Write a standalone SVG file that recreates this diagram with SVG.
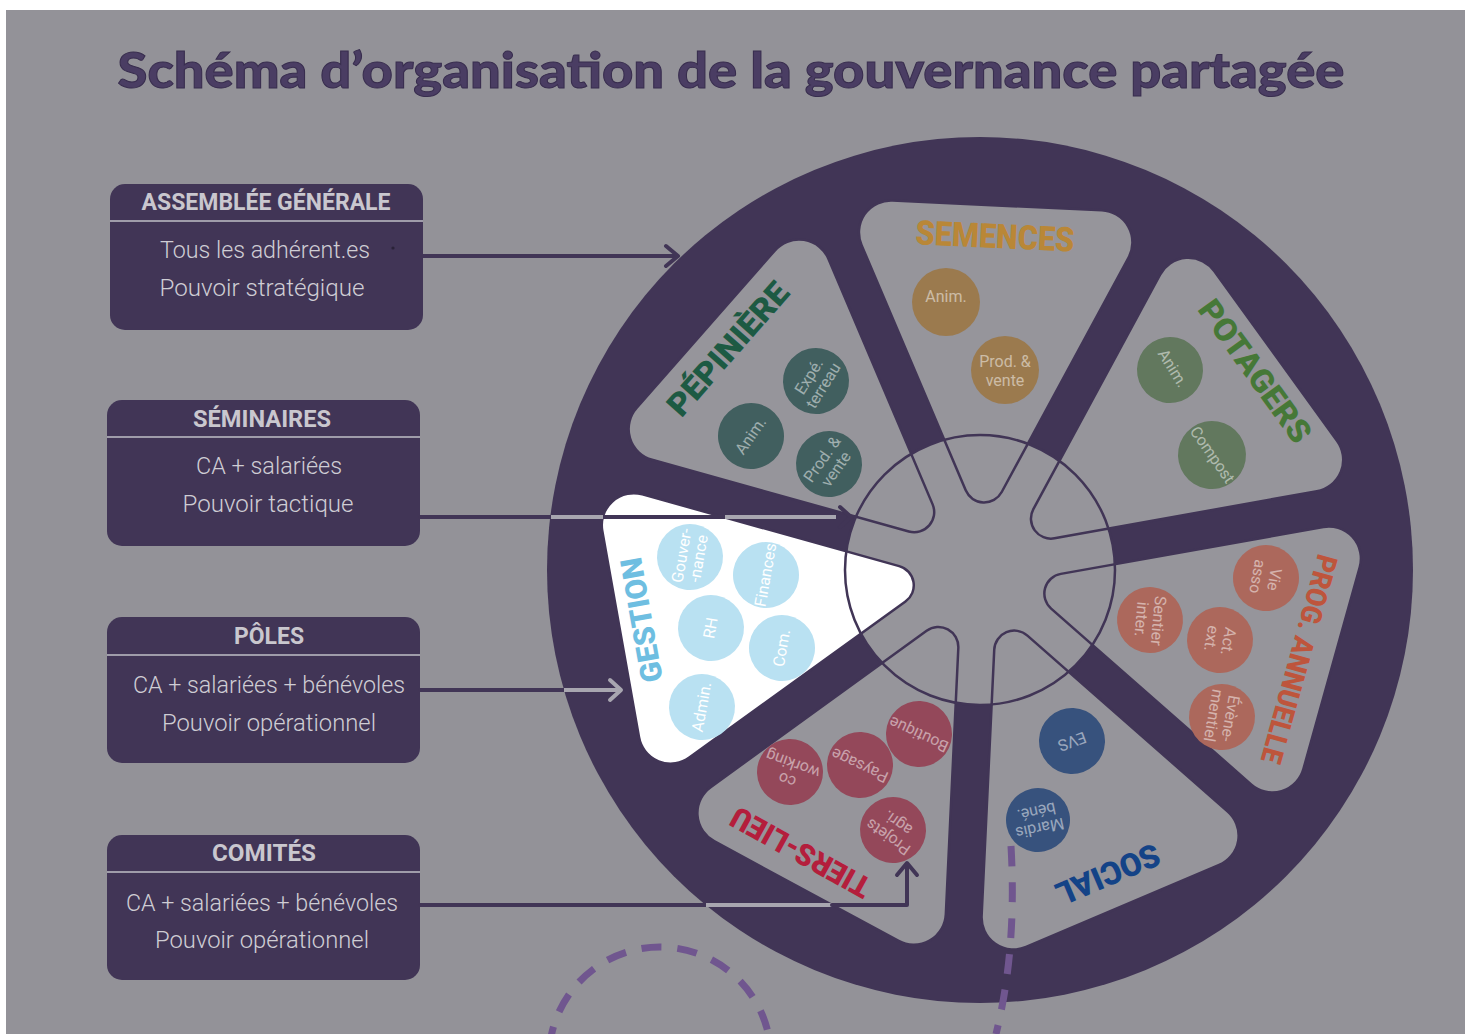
<svg xmlns="http://www.w3.org/2000/svg" width="1472" height="1034" viewBox="0 0 1472 1034">
<defs>
<style>
.bx{fill:#413556}
.sep{stroke:#9f9caa;stroke-width:2}
.hd{font-family:Roboto,"Liberation Sans",sans-serif;font-weight:700;font-size:24px;fill:#c9c7ce;text-anchor:middle}
.bd{font-family:Roboto,"Liberation Sans",sans-serif;font-weight:300;font-size:23px;fill:#cfcdd4;text-anchor:middle}
.seg{fill:#96959b;stroke:#413556;stroke-width:2.5}
.lbl{font-family:Roboto,"Liberation Sans",sans-serif;font-weight:900;text-anchor:middle}
.bt{font-family:Roboto,"Liberation Sans",sans-serif;font-size:16px;fill:#ffffff;fill-opacity:.5;text-anchor:middle}
.gt{fill-opacity:1}
.ln{fill:none;stroke:#413556;stroke-width:4;stroke-linecap:round;stroke-linejoin:round}
.lt{stroke:#a8a6b0;stroke-linecap:butt}
.dash{fill:none;stroke:#70568f;stroke-width:7;stroke-dasharray:20 16}
</style>
<path id="sg" d="M78.91,18.02 L319.11,133.69 A32,32 0 0 0 365,104.86 L365,-104.86 A32,32 0 0 0 319.11,-133.69 L78.91,-18.02 A20,20 0 0 0 78.91,18.02 Z"/>
</defs>
<rect width="1472" height="1034" fill="#ffffff"/>
<rect x="6" y="10" width="1459" height="1024" fill="#939298"/>

<g id="title">
<text x="731" y="88" text-anchor="middle" font-family="Lato, 'Liberation Sans', sans-serif" font-weight="900" font-size="50" fill="#4a3d63" stroke="#382d4e" stroke-width="1" textLength="1227" lengthAdjust="spacingAndGlyphs">Schéma d’organisation de la gouvernance partagée</text>
</g>

<g id="box-ag">
<rect class="bx" x="110" y="184" width="313" height="146" rx="15"/>
<line class="sep" x1="110" y1="221" x2="423" y2="221"/>
<text class="hd" x="266" y="210" textLength="249" lengthAdjust="spacingAndGlyphs">ASSEMBLÉE GÉNÉRALE</text>
<text class="bd" x="265" y="258" textLength="210" lengthAdjust="spacingAndGlyphs">Tous les adhérent.es</text>
<circle cx="393" cy="248" r="1.6" fill="#2a2238"/>
<text class="bd" x="262" y="296" textLength="205" lengthAdjust="spacingAndGlyphs">Pouvoir stratégique</text>
</g>

<g id="box-seminaires">
<rect class="bx" x="107" y="400" width="313" height="146" rx="15"/>
<line class="sep" x1="107" y1="437" x2="420" y2="437"/>
<text class="hd" x="262" y="427" textLength="138" lengthAdjust="spacingAndGlyphs">SÉMINAIRES</text>
<text class="bd" x="269" y="474" textLength="146" lengthAdjust="spacingAndGlyphs">CA + salariées</text>
<text class="bd" x="268" y="512" textLength="171" lengthAdjust="spacingAndGlyphs">Pouvoir tactique</text>
</g>

<g id="box-poles">
<rect class="bx" x="107" y="617" width="313" height="146" rx="15"/>
<line class="sep" x1="107" y1="655" x2="420" y2="655"/>
<text class="hd" x="269" y="644" textLength="70" lengthAdjust="spacingAndGlyphs">PÔLES</text>
<text class="bd" x="269" y="693" textLength="272" lengthAdjust="spacingAndGlyphs">CA + salariées + bénévoles</text>
<text class="bd" x="269" y="731" textLength="214" lengthAdjust="spacingAndGlyphs">Pouvoir opérationnel</text>
</g>

<g id="box-comites">
<rect class="bx" x="107" y="835" width="313" height="145" rx="15"/>
<line class="sep" x1="107" y1="872" x2="420" y2="872"/>
<text class="hd" x="264" y="861" textLength="104" lengthAdjust="spacingAndGlyphs">COMITÉS</text>
<text class="bd" x="262" y="911" textLength="272" lengthAdjust="spacingAndGlyphs">CA + salariées + bénévoles</text>
<text class="bd" x="262" y="948" textLength="214" lengthAdjust="spacingAndGlyphs">Pouvoir opérationnel</text>
</g>

<g id="wheel">
<circle cx="980" cy="570" r="433" fill="#413556"/>
<circle cx="980" cy="570" r="135" fill="#96959b"/>
</g>

<g id="seg-pepiniere">
<use href="#sg" class="seg" transform="translate(980,570) rotate(-138.7)"/>
<text class="lbl" transform="translate(728,349) rotate(-48.7)" y="11" font-size="32" fill="#1d5a43" textLength="166" lengthAdjust="spacingAndGlyphs">PÉPINIÈRE</text>
<g fill="#415f5f">
<g transform="translate(816,381) rotate(-58)"><circle r="33"/><text class="bt" y="-3">Expé.</text><text class="bt" y="14">terreau</text></g>
<g transform="translate(751,436) rotate(-55)"><circle r="33"/><text class="bt" y="5">Anim.</text></g>
<g transform="translate(829,464) rotate(-55)"><circle r="33"/><text class="bt" y="-3">Prod. &amp;</text><text class="bt" y="14">vente</text></g>
</g>
</g>

<g id="seg-semences">
<use href="#sg" class="seg" transform="translate(980,570) rotate(-87.3)"/>
<text class="lbl" transform="translate(995,236) rotate(2.7)" y="12" font-size="34" fill="#b98737" textLength="159" lengthAdjust="spacingAndGlyphs">SEMENCES</text>
<g fill="#9b7a4e">
<g transform="translate(946,302)"><circle r="34"/><text class="bt" y="0">Anim.</text></g>
<g transform="translate(1005,370)"><circle r="34"/><text class="bt" y="-3">Prod. &amp;</text><text class="bt" y="16">vente</text></g>
</g>
</g>

<g id="seg-potagers">
<use href="#sg" class="seg" transform="translate(980,570) rotate(-35.9)"/>
<text class="lbl" transform="translate(1255,371) rotate(54.1)" y="11" font-size="32" fill="#467837" textLength="168" lengthAdjust="spacingAndGlyphs">POTAGERS</text>
<g fill="#62785e">
<g transform="translate(1170,370) rotate(58)"><circle r="33"/><text class="bt" y="2">Anim.</text></g>
<g transform="translate(1212,455) rotate(55)"><circle r="34"/><text class="bt" y="5">Compost</text></g>
</g>
</g>

<g id="seg-prog">
<use href="#sg" class="seg" transform="translate(980,570) rotate(15.6)"/>
<text class="lbl" transform="translate(1299,659) rotate(105.6)" y="10" font-size="29" fill="#be553c" textLength="215" lengthAdjust="spacingAndGlyphs">PROG. ANNUELLE</text>
<g fill="#ac685c">
<g transform="translate(1266,578) rotate(100)"><circle r="33"/><text class="bt" y="-3">Vie</text><text class="bt" y="14">asso</text></g>
<g transform="translate(1150,620) rotate(95)"><circle r="33"/><text class="bt" y="-3">Sentier</text><text class="bt" y="14">inter.</text></g>
<g transform="translate(1220,640) rotate(100)"><circle r="33"/><text class="bt" y="-3">Act.</text><text class="bt" y="14">ext.</text></g>
<g transform="translate(1222,717) rotate(100)"><circle r="33"/><text class="bt" y="-3">Évène-</text><text class="bt" y="14">mentiel</text></g>
</g>
</g>

<g id="seg-social">
<use href="#sg" class="seg" transform="translate(980,570) rotate(67)"/>
<text class="lbl" transform="translate(1108,874) rotate(157)" y="11" font-size="32" fill="#144387" textLength="110" lengthAdjust="spacingAndGlyphs">SOCIAL</text>
<g fill="#37527d">
<g transform="translate(1072,741) rotate(160)"><circle r="33"/><text class="bt" y="5">EVS</text></g>
<g transform="translate(1038,820) rotate(168)"><circle r="32"/><text class="bt" y="-3">Mardis</text><text class="bt" y="14">béné.</text></g>
</g>
</g>

<g id="seg-tiers-lieu">
<use href="#sg" class="seg" transform="translate(980,570) rotate(118.4)"/>
<text class="lbl" transform="translate(801,852) rotate(209)" y="10" font-size="30" fill="#b41e3c" textLength="155" lengthAdjust="spacingAndGlyphs">TIERS-LIEU</text>
<g fill="#94485a">
<g transform="translate(919,734) rotate(205)"><circle r="33"/><text class="bt" y="5">Boutique</text></g>
<g transform="translate(860,765) rotate(205)"><circle r="33"/><text class="bt" y="5">Paysage</text></g>
<g transform="translate(790,772) rotate(200)"><circle r="33"/><text class="bt" y="-3">co</text><text class="bt" y="14">working</text></g>
<g transform="translate(893,830) rotate(215)"><circle r="33"/><text class="bt" y="-3">Projets</text><text class="bt" y="14">agri.</text></g>
</g>
</g>

<g id="seg-gestion">
<use href="#sg" class="seg" style="fill:#ffffff" transform="translate(980,570) rotate(169.9)"/>
<text class="lbl" transform="translate(642,620) rotate(-100.1)" y="10" font-size="30" fill="#6ebee1" textLength="126" lengthAdjust="spacingAndGlyphs">GESTION</text>
<g fill="#b9e1f2">
<g transform="translate(690,557) rotate(-80)"><circle r="33"/><text class="bt gt" y="-3">Gouver-</text><text class="bt gt" y="14">-nance</text></g>
<g transform="translate(766,575) rotate(-80)"><circle r="33"/><text class="bt gt" y="5">Finances</text></g>
<g transform="translate(711,628) rotate(-80)"><circle r="33"/><text class="bt gt" y="5">RH</text></g>
<g transform="translate(782,648) rotate(-80)"><circle r="33"/><text class="bt gt" y="5">Com.</text></g>
<g transform="translate(702,707) rotate(-80)"><circle r="33"/><text class="bt gt" y="5">Admin.</text></g>
</g>
</g>

<g id="hub">
<circle cx="980" cy="570" r="135" fill="none" stroke="#413556" stroke-width="2.5"/>
</g>

<g id="connectors">
<path class="ln" d="M423,256 H676"/>
<path class="ln" d="M666,246 L678,256 L666,266"/>
<path class="ln" d="M420,517 H846"/>
<path class="ln lt" d="M551,517 H603 M725,517 H836"/>
<path class="ln" d="M840,507 L851,517 L840,527"/>
<path class="ln" d="M420,690 H564"/>
<path class="ln lt" d="M564,690 H620"/>
<path class="ln lt" style="stroke-linecap:round" d="M610,680 L621,690 L610,700"/>
<path class="ln" d="M420,905 H706"/>
<path class="ln lt" d="M706,905 H832"/>
<path class="ln" d="M832,905 H907 V865"/>
<path class="ln" d="M897,875 L907,863 L917,875"/>
</g>

<g id="dashed">
<circle class="dash" cx="660" cy="1058" r="111"/>
<path class="dash" d="M1011,846 Q1017,950 996,1034"/>
</g>
</svg>
